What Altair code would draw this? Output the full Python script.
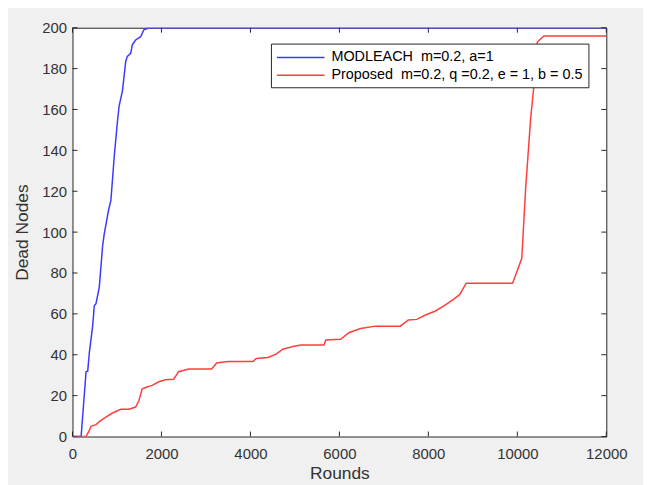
import altair as alt
import pandas as pd

# ---- data ----
series_names = [
    "MODLEACH\u00a0\u00a0m=0.2, a=1",
    "Proposed\u00a0\u00a0m=0.2, q =0.2, e = 1, b = 0.5",
]
series_colors = ["#3a3aff", "#ff3e3e"]

modleach_rounds = [0, 194, 305, 342, 379, 453, 490, 528, 602, 676, 713, 787, 810, 863,
                   937, 1010, 1048, 1122, 1197, 1233, 1309, 1345, 1420, 1532, 1605, 1717, 12000]
modleach_dead = [0, 0, 31.7, 32, 41, 54, 64, 65, 73, 93, 99, 108, 110.7, 115.5,
                 136.6, 154, 161.7, 169, 183.5, 186, 187.5, 191.6, 194, 195.6, 199, 200, 200]

proposed_rounds = [0, 305, 379, 416, 528, 640, 751, 899, 1085, 1271, 1420, 1494, 1568, 1643,
                   1791, 1940, 2089, 2275, 2386, 2609, 3128, 3240, 3501, 4058, 4132, 4393,
                   4578, 4727, 4876, 4950, 5135, 5656, 5693, 6027, 6213, 6474, 6808, 7366,
                   7552, 7738, 7961, 8147, 8333, 8556, 8703, 8852, 9893, 10004, 10100, 10189,
                   10301, 10375, 10449, 10598, 12000]
proposed_dead = [0, 0, 3, 5, 5.8, 7.9, 9.5, 11.5, 13.3, 13.3, 14.4, 17.6, 23.3, 24,
                 25, 26.8, 27.8, 28, 31.7, 33, 33, 36, 36.7, 36.7, 38.2, 38.7,
                 40.3, 42.7, 43.5, 44, 44.8, 44.8, 47.2, 47.6, 50.8, 52.8, 54, 54,
                 57, 57.3, 59.7, 61.3, 63.7, 67, 69.4, 75, 75, 81.5, 87.2, 122,
                 156, 172, 193, 196, 196]

x_ticks = [0, 2000, 4000, 6000, 8000, 10000, 12000]
y_ticks = [0, 20, 40, 60, 80, 100, 120, 140, 160, 180, 200]

# ---- tables ----
rows = []
for name, xs, ys in [(series_names[0], modleach_rounds, modleach_dead),
                     (series_names[1], proposed_rounds, proposed_dead)]:
    for i, (x, y) in enumerate(zip(xs, ys)):
        rows.append({"Rounds": x, "Dead": y, "series": name, "order": i})
df = pd.DataFrame(rows)
xt = pd.DataFrame({"Rounds": x_ticks})
yt = pd.DataFrame({"Dead": y_ticks})

W, H = 538, 412
FONT = "Liberation Sans"
AX = "#262626"

x_scale = alt.Scale(domain=[0, 12000], nice=False, zero=False)
y_scale = alt.Scale(domain=[0, 200], nice=False, zero=False)

x_axis = alt.Axis(values=x_ticks, title="Rounds", format="d", grid=False, ticks=False,
                  domain=False, labelFlush=False, labelOverlap=False, labelBound=False,
                  labelPadding=10, labelFontSize=15, labelFont=FONT,
                  labelColor="#333333", titleFont=FONT, titleFontSize=17.5,
                  titleFontWeight="normal", titleColor="#333333", titleX=W / 2, titleY=37,
                  titleBaseline="middle", titleAlign="center")
y_axis = alt.Axis(values=y_ticks, title="Dead Nodes", format="d", grid=False, ticks=False,
                  domain=False, labelFlush=False, labelOverlap=False, labelBound=False,
                  labelPadding=6, labelFontSize=15, labelFont=FONT,
                  labelColor="#333333", titleFont=FONT, titleFontSize=17.5,
                  titleFontWeight="normal", titleColor="#333333", titleX=-50, titleY=H / 2,
                  titleAngle=-90, titleBaseline="middle", titleAlign="center")

X = alt.X("Rounds:Q", scale=x_scale, axis=x_axis)
Y = alt.Y("Dead:Q", scale=y_scale, axis=y_axis)

lines = alt.Chart(df).mark_line(strokeWidth=1.5, clip=True).encode(
    x=X,
    y=Y,
    color=alt.Color(
        "series:N",
        scale=alt.Scale(domain=series_names, range=series_colors),
        legend=alt.Legend(
            orient="none", legendX=200, legendY=16, direction="vertical", title=None,
            fillColor="white", strokeColor=AX, padding=5, cornerRadius=0,
            symbolType="M-1,0H5", symbolSize=256, symbolStrokeWidth=1.5,
            labelFont=FONT, labelFontSize=14.5, labelColor="black", labelOffset=38,
            labelLimit=600, rowPadding=2,
        ),
    ),
    order="order:Q",
)

tick_len = 5
t_bottom = alt.Chart(xt).mark_rule(color=AX, strokeWidth=1).encode(
    x=X, y=alt.value(H), y2=alt.value(H - tick_len))
t_top = alt.Chart(xt).mark_rule(color=AX, strokeWidth=1).encode(
    x=X, y=alt.value(0), y2=alt.value(tick_len))
t_left = alt.Chart(yt).mark_rule(color=AX, strokeWidth=1).encode(
    y=Y, x=alt.value(0), x2=alt.value(tick_len))
t_right = alt.Chart(yt).mark_rule(color=AX, strokeWidth=1).encode(
    y=Y, x=alt.value(W), x2=alt.value(W - tick_len))

chart = alt.layer(t_bottom, t_top, t_left, t_right, lines).properties(
    width=W, height=H,
    padding={"left": 65, "top": 18, "right": 37, "bottom": 47},
    autosize=alt.AutoSizeParams(type="none"),
    background="#f0f0f0",
).configure_view(stroke=AX, strokeWidth=1, fill="white")

chart.save("out.html", embed_options={"renderer": "svg", "actions": False})
